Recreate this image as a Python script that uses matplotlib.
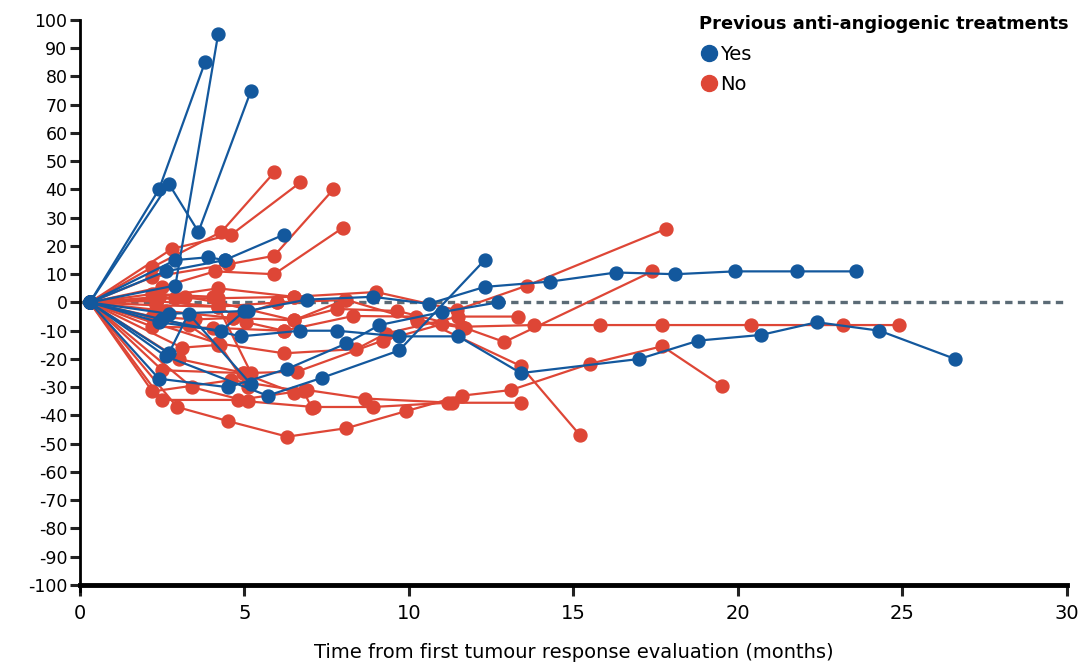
import matplotlib
matplotlib.use("Agg")
import matplotlib.pyplot as plt
from matplotlib.lines import Line2D

plt.rcParams["axes.unicode_minus"] = False

BLUE = "#13589d"
RED = "#de4636"

# Each patient: (months, % change in tumour size)
yes_series = [
    ([0.3, 2.4, 3.8], [0, 40, 85]),
    ([0.3, 2.7, 3.6, 5.2], [0, 42, 25, 75]),
    ([0.3, 2.9, 4.2], [0, 6, 95]),
    ([0.3, 2.9, 3.9, 4.4], [0, 15, 16, 15]),
    ([0.3, 2.6, 4.4, 6.2], [0, 11, 15, 24]),
    ([0.3, 2.7, 5.1, 6.9, 8.9, 10.6, 12.3, 14.3, 16.3, 18.1, 19.9, 21.8, 23.6],
     [0, -4, -3, 1, 2, -0.5, 5.5, 7.4, 10.6, 10, 11, 11, 11]),
    ([0.3, 2.5, 4.9, 6.7, 7.8, 9.7, 11.5, 13.4, 17.0, 18.8, 20.7, 22.4, 24.3, 26.6],
     [0, -6, -12, -10, -10, -12, -12, -25, -20, -13.5, -11.5, -7, -10, -20]),
    ([0.3, 2.4, 4.5, 6.3, 8.1, 9.1, 11.0, 12.7],
     [0, -27, -30, -23.5, -14.5, -8, -3.4, 0]),
    ([0.3, 2.6, 5.7, 7.35, 9.7, 12.3],
     [0, -19, -33, -26.7, -17, 15]),
    ([0.3, 2.4, 4.3, 5.0], [0, -7, -10, -3]),
    ([0.3, 2.7, 3.3, 5.2], [0, -18, -4, -29]),
]

no_series = [
    ([0.3, 2.2, 4.3, 5.9], [0, 12.5, 25, 46]),
    ([0.3, 2.8, 4.6, 6.7], [0, 19, 24, 42.5]),
    ([0.3, 2.2, 4.5, 5.9, 7.7], [0, 9, 13.5, 16.5, 40]),
    ([0.3, 2.5, 4.1, 5.9, 8.0], [0, 5.5, 11, 10, 26.5]),
    ([0.3, 2.4, 4.2, 6.5, 9.0, 11.45, 13.6, 17.8], [0, 2, 5, 2, 3.7, -2.7, 6, 26]),
    ([0.3, 2.3, 4.2, 6.0, 8.1, 10.25, 11.7, 12.9, 17.4],
     [0, -1, -1.5, 0, 0.9, -6.5, -9, -14, 11]),
    ([0.3, 2.6, 4.65, 6.5, 7.8, 9.65, 11.6, 13.8, 15.8, 17.7, 20.4, 23.2, 24.9],
     [0, -3, -5.5, -6.3, -2.3, -3, -8.6, -8, -8, -8, -8, -8, -8]),
    ([0.3, 2.95, 4.5, 6.3, 8.1, 9.9, 11.6, 13.1, 15.5, 17.7, 19.5],
     [0, -37, -42, -47.5, -44.5, -38.5, -33, -31, -21.7, -15.5, -29.5]),
    ([0.3, 2.2, 4.05, 6.2, 8.3, 10.2, 13.4, 15.2],
     [0, -8.6, -9, -10, -4.8, -5, -22.5, -47]),
    ([0.3, 3.4, 5.1, 7.1, 8.9, 11.2, 13.4], [0, -30, -35, -37, -37, -35.5, -35.5]),
    ([0.3, 2.5, 4.8, 6.9, 8.65, 11.3], [0, -34.5, -34.5, -31, -34, -35.5]),
    ([0.3, 2.2, 4.6, 6.8, 7.05], [0, -31.5, -27.5, -31.5, -37.5]),
    ([0.3, 4.2, 6.2, 8.4, 9.3, 11.5, 13.3], [0, -14.5, -18, -16.5, -11, -5, -5]),
    ([0.3, 3.0, 5.0, 6.6, 9.2, 11.0], [0, -20, -25, -24.5, -13.5, -7.7]),
    ([0.3, 2.5, 4.95, 6.5], [0, -24, -25, -32]),
    ([0.3, 3.1, 4.25, 5.1], [0, -16, -15, -30]),
    ([0.3, 3.2, 4.2, 6.5, 8.05], [0, 2, 0, -6.3, 0.9]),
    ([0.3, 2.3, 4.2, 5.05, 6.2], [0, 0.5, -1.5, -7, -10]),
    ([0.3, 2.2, 3.5, 4.65, 6.0], [0, -5, -6, -5.5, 0]),
    ([0.3, 2.9, 4.2, 6.5], [0, 1.5, 1.5, 2]),
    ([0.3, 2.4, 3.3, 4.2], [0, -6, -8, -15]),
    ([0.3, 2.2, 4.05, 5.2], [0, 3, 2, -25]),
]

legend_title = "Previous anti-angiogenic treatments"
legend_labels = ["Yes", "No"]
xticks = [0, 5, 10, 15, 20, 25, 30]
yticks = list(range(-100, 101, 10))
xlabel = "Time from first tumour response evaluation (months)"

fig = plt.figure(figsize=(10.81, 6.64), dpi=100)
ax = fig.add_axes([0.074, 0.119, 0.913, 0.851])

ax.plot([0, 30], [0, 0], ls=(0, (2.2, 1.6)), color="#5b6b76", lw=2.4, zorder=1)

for xs, ys in no_series:
    ax.plot(xs, ys, color=RED, lw=1.6, marker="o", ms=9.3, mec=RED, zorder=2)
for xs, ys in yes_series:
    ax.plot(xs, ys, color=BLUE, lw=1.6, marker="o", ms=9.3, mec=BLUE, zorder=3)

ax.set_xlim(0, 30)
ax.set_ylim(-100, 100)
ax.spines["top"].set_visible(False)
ax.spines["right"].set_visible(False)
ax.spines["left"].set_linewidth(2.0)
ax.spines["bottom"].set_linewidth(3.5)
ax.spines["left"].set_bounds(-102, 100)
ax.set_xticks(xticks)
ax.set_yticks(yticks)
ax.tick_params(axis="y", length=7, width=2.2, labelsize=12.5, pad=2, color="#222222")
ax.tick_params(axis="x", length=8, width=2.2, labelsize=14, pad=6, color="#222222")
ax.set_xlabel(xlabel, fontsize=14, labelpad=14)

handles = [Line2D([], [], ls="none", marker="o", ms=11.5, color=BLUE),
           Line2D([], [], ls="none", marker="o", ms=11.5, color=RED)]
leg = ax.legend(handles, legend_labels, title=legend_title, loc="upper right",
                bbox_to_anchor=(1.012, 1.026), frameon=False, fontsize=14,
                title_fontproperties={"weight": "bold", "size": 12.9},
                handletextpad=0.05, borderpad=0, labelspacing=0.6, handlelength=1.0)
leg._legend_box.align = "left"

fig.savefig("out.png", dpi=100)
